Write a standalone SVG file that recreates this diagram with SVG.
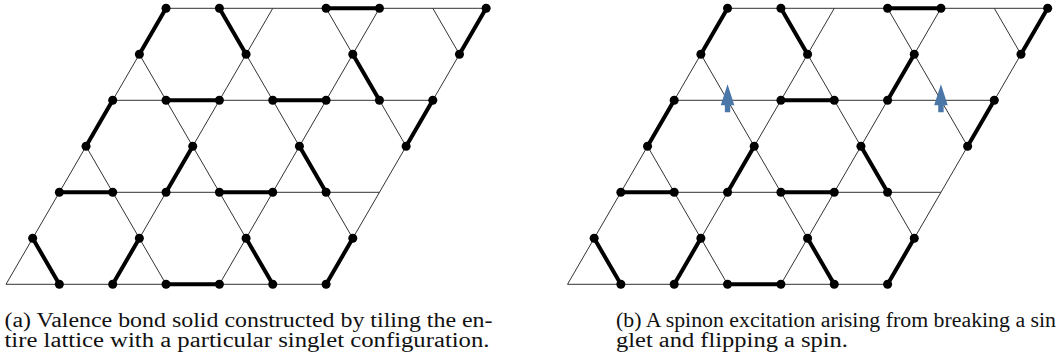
<svg xmlns="http://www.w3.org/2000/svg" width="1057" height="358" viewBox="0 0 1057 358">
<style>
.lat{fill:none;stroke:#333;stroke-width:1}
.bond{stroke:#000;stroke-width:4;stroke-linecap:round;marker-start:url(#dot);marker-end:url(#dot)}
.spin{fill:#4a76a8}
.cap{font-size:20px;fill:#111}
</style>
<defs>
<marker id="dot" markerUnits="userSpaceOnUse" markerWidth="10" markerHeight="10" refX="5" refY="5" overflow="visible"><circle cx="5" cy="5" r="4.5" fill="#000"/></marker>
<path id="latpath" class="lat" d="M0,0H320.1M53.35,-92H373.45M106.7,-184H426.8M160.05,-276H480.15M0,0L160.05,-276M106.7,0L266.75,-276M213.4,0L373.45,-276M320.1,0L480.15,-276M53.35,0L26.675,-46M160.05,0L80.025,-138M266.75,0L133.375,-230M346.775,-46L213.4,-276M400.125,-138L320.1,-276M453.475,-230L426.8,-276"/>
<g id="common">
<line class="bond" x1="160.05" y1="-276" x2="133.375" y2="-230"/>
<line class="bond" x1="213.4" y1="-276" x2="240.075" y2="-230"/>
<line class="bond" x1="320.1" y1="-276" x2="373.45" y2="-276"/>
<line class="bond" x1="480.15" y1="-276" x2="453.475" y2="-230"/>
<line class="bond" x1="106.7" y1="-184" x2="80.025" y2="-138"/>
<line class="bond" x1="426.8" y1="-184" x2="400.125" y2="-138"/>
<line class="bond" x1="186.725" y1="-138" x2="160.05" y2="-92"/>
<line class="bond" x1="293.425" y1="-138" x2="320.1" y2="-92"/>
<line class="bond" x1="53.35" y1="-92" x2="106.7" y2="-92"/>
<line class="bond" x1="213.4" y1="-92" x2="266.75" y2="-92"/>
<line class="bond" x1="26.675" y1="-46" x2="53.35" y2="0"/>
<line class="bond" x1="133.375" y1="-46" x2="106.7" y2="0"/>
<line class="bond" x1="160.05" y1="0" x2="213.4" y2="0"/>
<line class="bond" x1="240.075" y1="-46" x2="266.75" y2="0"/>
<line class="bond" x1="346.775" y1="-46" x2="320.1" y2="0"/>
</g>
<polygon id="arrow" class="spin" points="0,-16 6.8,5 2.7,5 2.7,12 -2.7,12 -2.7,5 -6.8,5"/>
</defs>
<g id="panel-a" transform="translate(6,284.3)">
<use href="#latpath"/>
<g id="bonds-a">
<use href="#common"/>
<line class="bond" x1="346.775" y1="-230" x2="373.45" y2="-184"/>
<line class="bond" x1="160.05" y1="-184" x2="213.4" y2="-184"/>
<line class="bond" x1="266.75" y1="-184" x2="320.1" y2="-184"/>
</g>
</g>
<g id="panel-b" transform="translate(567.5,284.3)">
<use href="#latpath"/>
<g id="bonds-b">
<use href="#common"/>
<line class="bond" x1="213.4" y1="-184" x2="266.75" y2="-184"/>
<line class="bond" x1="320.1" y1="-184" x2="346.775" y2="-230"/>
</g>
<g id="spins">
<use href="#arrow" x="160.05" y="-184"/>
<use href="#arrow" x="373.45" y="-184"/>
</g>
</g>
<g id="captions" font-family="'Liberation Serif', 'Times New Roman', serif">
<text class="cap" x="4.5" y="326.5" textLength="488" lengthAdjust="spacingAndGlyphs">(a) Valence bond solid constructed by tiling the en-</text>
<text class="cap" x="4.5" y="346.5" textLength="485" lengthAdjust="spacingAndGlyphs">tire lattice with a particular singlet configuration.</text>
<text class="cap" x="616" y="326.5" textLength="440" lengthAdjust="spacingAndGlyphs">(b) A spinon excitation arising from breaking a sin</text>
<text class="cap" x="616" y="346.5" textLength="232" lengthAdjust="spacingAndGlyphs">glet and flipping a spin.</text>
</g>
</svg>
